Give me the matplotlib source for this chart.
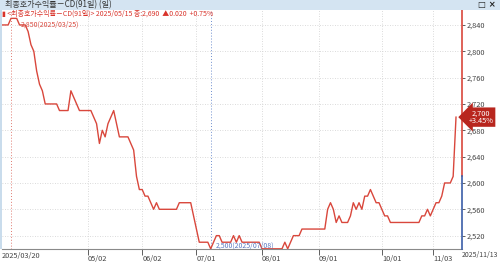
import matplotlib.pyplot as plt
import matplotlib.patches as mpatches
import pandas as pd

plt.rcParams['font.family'] = ['Noto Sans CJK KR', 'DejaVu Sans']

# Korean market holidays in the range (no trading)
holidays = ['2025-05-01', '2025-05-05', '2025-05-06', '2025-06-03', '2025-06-06',
            '2025-08-15', '2025-10-03', '2025-10-06', '2025-10-07', '2025-10-08', '2025-10-09']
dates = pd.bdate_range('2025-03-20', '2025-11-13')
dates = dates[~dates.isin(pd.to_datetime(holidays))]

# CD(91일) rate, one value per trading day
rates = [
    2.84, 2.84, 2.84, 2.85, 2.85, 2.85, 2.84, 2.84, 2.84, 2.83,
    2.81, 2.80, 2.77, 2.75, 2.74, 2.72, 2.72, 2.72, 2.72, 2.72,
    2.71, 2.71, 2.71, 2.71, 2.74, 2.73, 2.72, 2.71, 2.71, 2.71,
    2.71, 2.71, 2.70, 2.69, 2.66, 2.68, 2.67, 2.69, 2.70, 2.71,
    2.69, 2.67, 2.67, 2.67, 2.67, 2.66, 2.65, 2.61, 2.59, 2.59,
    2.58, 2.58, 2.57, 2.56, 2.57, 2.56, 2.56, 2.56, 2.56, 2.56,
    2.56, 2.56, 2.57, 2.57, 2.57, 2.57, 2.57, 2.55, 2.53, 2.51,
    2.51, 2.51, 2.51, 2.50, 2.51, 2.52, 2.52, 2.51, 2.51, 2.51,
    2.51, 2.52, 2.51, 2.52, 2.51, 2.51, 2.51, 2.51, 2.51, 2.51,
    2.51, 2.50, 2.50, 2.50, 2.50, 2.50, 2.50, 2.50, 2.50, 2.51,
    2.50, 2.51, 2.52, 2.52, 2.52, 2.53, 2.53, 2.53, 2.53, 2.53,
    2.53, 2.53, 2.53, 2.53, 2.56, 2.57, 2.56, 2.54, 2.55, 2.54,
    2.54, 2.54, 2.55, 2.57, 2.56, 2.57, 2.56, 2.58, 2.58, 2.59,
    2.58, 2.57, 2.57, 2.56, 2.55, 2.55, 2.54, 2.54, 2.54, 2.54,
    2.54, 2.54, 2.54, 2.54, 2.54, 2.54, 2.54, 2.55, 2.55, 2.56,
    2.55, 2.56, 2.57, 2.57, 2.58, 2.60, 2.60, 2.60, 2.61, 2.70,
]

tick_dates = ['2025-05-02', '2025-06-02', '2025-07-01', '2025-08-01',
              '2025-09-01', '2025-10-01', '2025-11-03']
tick_labels = ['05/02', '06/02', '07/01', '08/01', '09/01', '10/01', '11/03']
y_ticks = [2.52, 2.56, 2.60, 2.64, 2.68, 2.72, 2.76, 2.80, 2.84]

title = '최종호가수익률－CD(91일) (일)'
legend_text = '▮ <최종호가수익률－CD(91일)> 2025/05/15 종:2,690  ▲0.020  +0.75%'


def fmt(v):
    return f'{v:.3f}'.replace('.', ',')


W, H = 500, 262
fig = plt.figure(figsize=(W / 100, H / 100), dpi=100)

# window chrome
fig.patches.append(mpatches.Rectangle((0, (H - 10) / H), 1, 10 / H, transform=fig.transFigure,
                                      facecolor='#d4e4f2', edgecolor='none', zorder=0))
fig.patches.append(mpatches.Rectangle((0, 13 / H), 2 / W, (H - 23) / H, transform=fig.transFigure,
                                      facecolor='#c9dcec', edgecolor='none', zorder=0))
fig.text(5 / W, (H - 5) / H, title, fontsize=5.8, color='#333333', va='center', ha='left')
fig.text(478 / W, (H - 5) / H, '□ ×', fontsize=6, color='#222222', va='center', ha='left',
         family='DejaVu Sans', weight='bold')

ax = fig.add_axes([2 / W, 13 / H, 460 / W, (H - 23) / H])
x = list(range(len(rates)))
ax.plot(x, rates, color='#d9473c', lw=1.0, zorder=3)

xmin, xmax = -0.15, 161.1
ymin, ymax = 2.4997, 2.8627
ax.set_xlim(xmin, xmax)
ax.set_ylim(ymin, ymax)

for s in ['top', 'left', 'right']:
    ax.spines[s].set_visible(False)
ax.spines['bottom'].set_color('#8a8a8a')
ax.spines['bottom'].set_linewidth(0.8)

# right axis split line: red above previous close, blue below
prev = rates[-2]
ax.plot([xmax, xmax], [prev, ymax], color='#d9473c', lw=1.2, clip_on=False, zorder=4)
ax.plot([xmax, xmax], [ymin, prev], color='#3b5ea8', lw=1.2, clip_on=False, zorder=4)

ax.yaxis.tick_right()
ax.set_yticks(y_ticks)
ax.set_yticklabels([fmt(v) for v in y_ticks])
ax.tick_params(axis='y', labelsize=5.3, length=2, width=0.6, pad=1, colors='#444444')

pos = [dates.get_loc(pd.Timestamp(d)) for d in tick_dates]
ax.set_xticks(pos)
ax.set_xticklabels(tick_labels)
for lab in ax.get_xticklabels():
    lab.set_horizontalalignment('left')
ax.tick_params(axis='x', labelsize=5.3, length=4, width=0.6, pad=0.5, colors='#444444')

ax.text(0, -0.012, dates[0].strftime('%Y/%m/%d'), transform=ax.transAxes,
        fontsize=5.3, color='#444444', ha='left', va='top')
fig.text(498 / W, 11 / H, dates[-1].strftime('%Y/%m/%d'),
         fontsize=5.0, color='#444444', ha='right', va='top')

ax.grid(color='#cfcfcf', linestyle=(0, (1, 2)), lw=0.6)
ax.set_axisbelow(True)

# max / min markers
imax = rates.index(max(rates))
imin = rates.index(min(rates))
ax.axvline(imax, color='#e07a70', ls=(0, (1, 2)), lw=0.7, zorder=2)
ax.axvline(imin, color='#6f8fcf', ls=(0, (1, 2)), lw=0.7, zorder=2)
ax.annotate(fmt(max(rates)) + '(' + dates[imax].strftime('%Y/%m/%d') + ')',
            (imax, max(rates)), xytext=(10, -6), textcoords='offset pixels',
            fontsize=5.0, color='#d9473c', ha='left', va='center')
ax.annotate(fmt(min(rates)) + '(' + dates[imin].strftime('%Y/%m/%d') + ')',
            (imin, min(rates)), xytext=(5, 3), textcoords='offset pixels',
            fontsize=5.0, color='#5a78c0', ha='left', va='center')

fig.text(2 / W, (H - 14) / H, legend_text, fontsize=5.0, color='#d9342b', ha='left', va='center')

# last value tag
last = rates[-1]
chg = (last / prev - 1) * 100
ax.annotate(fmt(last) + f'\n+{chg:.2f}%', (1.0, last),
            xycoords=('axes fraction', 'data'), xytext=(19, 0), textcoords='offset pixels',
            fontsize=5.3, color='white', ha='center', va='center', linespacing=0.95,
            bbox=dict(boxstyle='larrow,pad=0.25', facecolor='#b8261e', edgecolor='none'),
            zorder=6, annotation_clip=False)

fig.savefig('out.png', dpi=100)
